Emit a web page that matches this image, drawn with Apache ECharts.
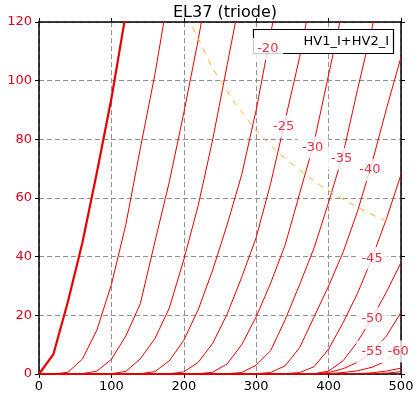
<!DOCTYPE html>
<html><head><meta charset="utf-8">
<script src="https://cdn.jsdelivr.net/npm/echarts@6/dist/echarts.min.js"></script>
<style>html,body{margin:0;padding:0;background:#fff}#c{width:420px;height:397px}</style>
</head><body><div id="c"></div>
<script>
// Anode voltage grid (V)
const Va = [0,20,40,60,80,100,120,140,160,180,200,220,240,260,280,300,320,340,360,380,400,420,440,460,480,500];
// Grid voltages
const gridV = ['0','-5','-10','-15','-20','-25','-30','-35','-40','-45','-50','-55','-60','-65','-70'];
// Anode current (mA) per grid voltage, at Va points
const I_0   = [0,6.8,24.7,44.8,68.8,93.9,123];
const I_m5  = [0,0,0.6,5.1,15,30.5,51,77,102,131];
const I_m10 = [0,0,0,0.1,1.0,5,13,24,45,65.5,89,114,142];
const I_m15 = [0,0,0,0,0,0.1,0.9,5.2,12,22.5,39,57.5,80,105.5,131];
const I_m20 = [0,0,0,0,0,0,0,0.1,0.8,4.5,11.5,22,35.5,51,68,90,116,143];
const I_m25 = [0,0,0,0,0,0,0,0,0,0.1,0.7,4,10.5,20.5,33,46.5,65,86.5,108,134];
const I_m30 = [0,0,0,0,0,0,0,0,0,0,0,0.1,0.6,3.5,10,19.5,31,44,61.5,79,102,125];
const I_m35 = [0,0,0,0,0,0,0,0,0,0,0,0,0,0.1,0.5,3,8,18.5,30.5,43,58.5,75,97,118,142];
const I_m40 = [0,0,0,0,0,0,0,0,0,0,0,0,0,0,0,0.1,0.5,2.8,9,19.5,30,41.5,55.5,72,90.5,108];
const I_m45 = [0,0,0,0,0,0,0,0,0,0,0,0,0,0,0,0,0,0.1,0.5,2.5,8.5,17.5,27.5,39.5,53,68];
const I_m50 = [0,0,0,0,0,0,0,0,0,0,0,0,0,0,0,0,0,0,0,0.1,1,4.5,11,19,28,38];
const I_m55 = [0,0,0,0,0,0,0,0,0,0,0,0,0,0,0,0,0,0,0,0.1,0.5,1.8,4,7.5,13,21];
const I_m60 = [0,0,0,0,0,0,0,0,0,0,0,0,0,0,0,0,0,0,0,0,0.1,0.5,1.1,2.3,4.5,8.5];
const I_m65 = [0,0,0,0,0,0,0,0,0,0,0,0,0,0,0,0,0,0,0,0,0,0,0.1,0.4,1,2];
const I_m70 = [0,0,0,0,0,0,0,0,0,0,0,0,0,0,0,0,0,0,0,0,0,0,0,0.1,0.3,0.8];
const curves = [I_0,I_m5,I_m10,I_m15,I_m20,I_m25,I_m30,I_m35,I_m40,I_m45,I_m50,I_m55,I_m60,I_m65,I_m70];
// Inline curve labels: which curves, and anode voltage where the label sits
const labelGrids = ['-20','-25','-30','-35','-40','-45','-50','-55','-60'];
const labelAtV   = [316,338,378,418,457,460,460,460,496];
// Dissipation curve (dashed orange)
const pdV = [205,240,270,300,330,360,390,420,450,485];
const pdI = [122,104,92.5,83,75.5,69.5,64,59.5,55.5,51.5];
// Ticks
const xTicks = [0,100,200,300,400,500];
const yTicks = [0,20,40,60,80,100,120];
const legendText = 'HV1_I+HV2_I';
const titleText = 'EL37 (triode)';

const FONT = 'DejaVu Sans';
const RED = '#e60000';
const LBL = '#d8001a';

function interp(arr, v){
  for (let i=0;i<arr.length-1;i++){
    if (v>=Va[i] && v<=Va[i+1]){
      const t=(v-Va[i])/(Va[i+1]-Va[i]);
      return arr[i]+t*(arr[i+1]-arr[i]);
    }
  }
  return arr[arr.length-1];
}

const series = [];
curves.forEach((arr, k) => {
  series.push({
    type:'line', name:gridV[k], data: arr.map((y,i)=>[Va[i],y]),
    showSymbol:false, symbol:'none', smooth:false, clip:true,
    lineStyle:{color:RED, width: k===0 ? 2.2 : 1},
    z:2, silent:true, animation:false
  });
});
series.push({
  type:'line', name:legendText, data: pdV.map((v,i)=>[v,pdI[i]]),
  showSymbol:false, symbol:'none', clip:true,
  lineStyle:{color:'#ffb030', width:1, type:[6,6]},
  z:3, silent:true, animation:false
});
series.push({
  type:'scatter', symbolSize:0, z:20, animation:false, silent:true,
  data: labelGrids.map((g,i)=>{
    const arr = curves[gridV.indexOf(g)];
    return {value:[labelAtV[i], interp(arr,labelAtV[i])], name:g};
  }),
  label:{show:true, position:'inside', formatter:p=>p.name, color:LBL,
    fontFamily:FONT, fontSize:13, backgroundColor:'#fff', padding:[5,5,4,5]}
});

const chart = echarts.init(document.getElementById('c'), null, {renderer:'canvas'});
chart.setOption({
  animation:false,
  backgroundColor:'#fff',
  title:{text:titleText, left:220, textAlign:'center', top:0,
    textStyle:{fontFamily:FONT, fontSize:16, fontWeight:'normal', color:'#000'}},
  grid:{left:39, right:19, top:22, bottom:23},
  xAxis:[{type:'value', min:0, max:500, interval:100, position:'bottom',
    axisLine:{show:true, onZero:false, lineStyle:{color:'#000', width:1.5}},
    axisTick:{show:true, inside:false, length:4, lineStyle:{color:'#000'}},
    axisLabel:{color:'#000', fontFamily:FONT, fontSize:13, margin:6,
      formatter:v=> xTicks.includes(v)? String(v):''},
    splitLine:{show:true, lineStyle:{color:'#909090', type:[5,3], width:1}}},
   {type:'value', min:0, max:500, interval:100, position:'top',
    axisLine:{show:true, onZero:false, lineStyle:{color:'#000', width:1.5}},
    axisTick:{show:true, inside:false, length:4, lineStyle:{color:'#000'}},
    axisLabel:{show:false}, splitLine:{show:false}}],
  yAxis:[{type:'value', min:0, max:120, interval:20, position:'left',
    axisLine:{show:true, onZero:false, lineStyle:{color:'#000', width:1.5}},
    axisTick:{show:true, inside:false, length:4, lineStyle:{color:'#000'}},
    axisLabel:{color:LBL, fontFamily:FONT, fontSize:13, margin:7,
      formatter:v=> yTicks.includes(v)? String(v):''},
    splitLine:{show:true, lineStyle:{color:'#909090', type:[5,3], width:1}}},
   {type:'value', min:0, max:120, interval:20, position:'right',
    axisLine:{show:true, onZero:false, lineStyle:{color:'#000', width:1.5}},
    axisTick:{show:true, inside:false, length:4, lineStyle:{color:'#000'}},
    axisLabel:{show:false}, splitLine:{show:false}}],
  graphic:[{type:'group', z:10, children:[
    {type:'rect', shape:{x:253.5, y:29.5, width:140, height:24},
     style:{fill:'#fff', stroke:'#000', lineWidth:1.2}, z:10},
    {type:'text', x:389, y:41.5, z:11,
     style:{text:legendText, font:'13px "DejaVu Sans"', fill:'#000', align:'right', verticalAlign:'middle'}}
  ]}],
  series: series
});
</script></body></html>
